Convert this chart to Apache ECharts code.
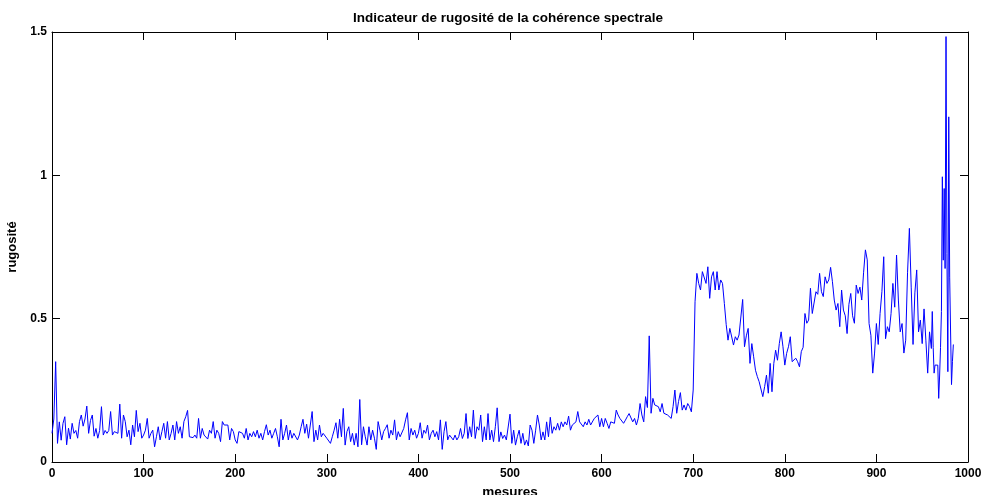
<!DOCTYPE html>
<html>
<head>
<meta charset="utf-8">
<script src="https://cdn.jsdelivr.net/npm/echarts@6/dist/echarts.min.js"></script>
<style>
  html, body { margin: 0; padding: 0; background: #fff; }
  #chart { width: 984px; height: 495px; }
</style>
</head>
<body>
<div id="chart"></div>
<script>
// ---- Data ----
const chartTitle = 'Indicateur de rugosité de la cohérence spectrale';
const xAxisName = 'mesures';
const yAxisName = 'rugosité';

// measures 0..958, one value every 2 measures
const mainStart = 0;
const mainStep = 2;
const rugosite = [
  // 0 - 218
  0.10, 0.15, 0.35, 0.065, 0.14, 0.076, 0.135, 0.158, 0.06, 0.118,
  0.08, 0.135, 0.10, 0.11, 0.083, 0.141, 0.164, 0.125, 0.15, 0.195,
  0.10, 0.145, 0.164, 0.09, 0.117, 0.083, 0.11, 0.193, 0.094, 0.11,
  0.10, 0.11, 0.176, 0.094, 0.106, 0.11, 0.10, 0.202, 0.083, 0.164,
  0.141, 0.088, 0.111, 0.06, 0.129, 0.088, 0.18, 0.106, 0.135, 0.083,
  0.094, 0.111, 0.152, 0.083, 0.10, 0.111, 0.053, 0.088, 0.123, 0.077,
  0.106, 0.135, 0.083, 0.141, 0.077, 0.10, 0.129, 0.077, 0.141, 0.10,
  0.123, 0.083, 0.141, 0.158, 0.18, 0.088, 0.09, 0.085, 0.094, 0.083,
  0.152, 0.083, 0.117, 0.094, 0.10, 0.08, 0.111, 0.10, 0.141, 0.083,
  0.111, 0.10, 0.071, 0.141, 0.129, 0.123, 0.129, 0.077, 0.117, 0.106,
  0.077, 0.065, 0.106, 0.111, 0.10, 0.083, 0.117, 0.077, 0.10, 0.088,
  // 220 - 434
  0.106, 0.088, 0.111, 0.083, 0.10, 0.077, 0.106, 0.13, 0.094, 0.111,
  0.083, 0.10, 0.117, 0.088, 0.053, 0.149, 0.077, 0.10, 0.129, 0.077,
  0.111, 0.083, 0.10, 0.106, 0.077, 0.094, 0.123, 0.149, 0.10, 0.132,
  0.083, 0.129, 0.176, 0.071, 0.111, 0.077, 0.129, 0.088, 0.10, 0.10,
  0.083, 0.077, 0.065, 0.088, 0.111, 0.137, 0.083, 0.149, 0.088, 0.187,
  0.059, 0.106, 0.123, 0.071, 0.10, 0.059, 0.10, 0.053, 0.218, 0.06,
  0.123, 0.088, 0.059, 0.123, 0.077, 0.111, 0.083, 0.044, 0.141, 0.111,
  0.077, 0.106, 0.117, 0.13, 0.083, 0.111, 0.094, 0.147, 0.077, 0.106,
  0.088, 0.088, 0.117, 0.147, 0.172, 0.077, 0.117, 0.094, 0.111, 0.083,
  0.10, 0.137, 0.083, 0.111, 0.10, 0.129, 0.077, 0.10, 0.111, 0.088,
  0.106, 0.077, 0.147, 0.044, 0.106, 0.141, 0.077, 0.094,
  // 436 - 630
  0.088, 0.077, 0.094, 0.077, 0.088, 0.117, 0.082, 0.10, 0.169, 0.082,
  0.123, 0.088, 0.181, 0.082, 0.123, 0.111, 0.164, 0.071, 0.123, 0.077,
  0.169, 0.077, 0.111, 0.071, 0.123, 0.189, 0.071, 0.105, 0.082, 0.094,
  0.077, 0.082, 0.167, 0.065, 0.111, 0.059, 0.088, 0.111, 0.065, 0.10,
  0.059, 0.077, 0.056, 0.129, 0.111, 0.065, 0.111, 0.164, 0.129, 0.077,
  0.105, 0.077, 0.14, 0.088, 0.156, 0.10, 0.123, 0.111, 0.135, 0.111,
  0.14, 0.123, 0.14, 0.129, 0.16, 0.111, 0.129, 0.123, 0.14, 0.176,
  0.14, 0.135, 0.123, 0.14, 0.129, 0.149, 0.129, 0.123, 0.152, 0.146,
  0.164, 0.123, 0.152, 0.123, 0.152, 0.135, 0.117, 0.14, 0.146, 0.135,
  0.181, 0.164, 0.152, 0.152, 0.135, 0.146, 0.158, 0.169,
  // 632 - 702
  0.165, 0.14, 0.152, 0.129, 0.152, 0.204, 0.164, 0.14, 0.228, 0.19,
  0.44, 0.17, 0.222, 0.199, 0.204, 0.193, 0.175, 0.204, 0.17, 0.175,
  0.164, 0.17, 0.152, 0.193, 0.251, 0.17, 0.211, 0.242, 0.181, 0.199,
  0.181, 0.204, 0.193, 0.175, 0.251, 0.559,
  // 704 - 756
  0.658, 0.623, 0.60, 0.664, 0.67, 0.623, 0.681, 0.571, 0.646, 0.664,
  0.60, 0.664, 0.60, 0.635, 0.623, 0.553, 0.48, 0.425, 0.466, 0.472,
  0.408, 0.437, 0.425, 0.443, 0.437, 0.567, 0.402,
  // 758 - 884
  0.44, 0.466, 0.344, 0.413, 0.367, 0.32, 0.298, 0.28, 0.286, 0.228,
  0.263, 0.303, 0.24, 0.344, 0.245, 0.344, 0.39, 0.355, 0.413, 0.454,
  0.402, 0.338, 0.379, 0.402, 0.437, 0.35, 0.344, 0.362, 0.35, 0.332,
  0.385, 0.40, 0.518, 0.484, 0.495, 0.606, 0.518, 0.512, 0.594, 0.585,
  0.658, 0.594, 0.577, 0.646, 0.623, 0.635, 0.679, 0.629, 0.565, 0.53,
  0.553, 0.472, 0.60, 0.53, 0.51, 0.448, 0.55, 0.588, 0.51, 0.484,
  0.617, 0.588, 0.61, 0.565,
  // 886 - 958
  0.66, 0.74, 0.705, 0.483, 0.442, 0.31, 0.38, 0.483, 0.41, 0.518,
  0.594, 0.716, 0.43, 0.472, 0.454, 0.518, 0.623, 0.54, 0.722, 0.565,
  0.454, 0.483, 0.38, 0.425, 0.66, 0.815, 0.61, 0.41, 0.59, 0.67,
  0.454, 0.495, 0.413, 0.534, 0.425, 0.31, 0.454
];

// measures 960..984, one value per measure
const tailStart = 960;
const rugositeTail = [
  0.396, 0.525, 0.40, 0.31, 0.338, 0.344, 0.344, 0.338, 0.222, 0.30,
  0.40, 0.525, 0.995, 0.704, 0.954, 0.675, 1.484, 0.728, 0.315, 1.204,
  0.645, 0.45, 0.27, 0.35, 0.41
];

const xTicks = { min: 0, max: 1000, interval: 100 };
const yTicks = { min: 0, max: 1.5, interval: 0.5 };

// ---- Build series ----
const seriesData = [];
rugosite.forEach((v, i) => seriesData.push([mainStart + i * mainStep, v]));
rugositeTail.forEach((v, i) => seriesData.push([tailStart + i, v]));

const FONT = '"Liberation Sans", Arial, sans-serif';
const chart = echarts.init(document.getElementById('chart'), null, { renderer: 'canvas' });

const tickStyle = { color: '#000', width: 1 };
chart.setOption({
  animation: false,
  backgroundColor: '#ffffff',
  title: {
    text: chartTitle,
    left: 503,
    top: 6,
    textAlign: 'center',
    textStyle: { fontFamily: FONT, fontSize: 13.5, fontWeight: 'bold', color: '#000' }
  },
  grid: { left: 52, right: 16, top: 32, bottom: 33, containLabel: false, outerBoundsMode: 'none' },
  xAxis: [
    {
      type: 'value', position: 'bottom',
      min: xTicks.min, max: xTicks.max, interval: xTicks.interval,
      name: xAxisName, nameLocation: 'middle', nameGap: 21,
      nameTextStyle: { fontFamily: FONT, fontSize: 13.5, fontWeight: 'bold', color: '#000' },
      axisLine: { show: true, onZero: false, lineStyle: { color: '#000', width: 1 } },
      axisTick: { show: true, inside: true, length: 8, lineStyle: tickStyle },
      axisLabel: { color: '#000', fontFamily: FONT, fontSize: 12, fontWeight: 'bold', margin: 6,
                   formatter: (v) => String(v) },
      splitLine: { show: false }
    },
    {
      type: 'value', position: 'top',
      min: xTicks.min, max: xTicks.max, interval: xTicks.interval,
      axisLine: { show: true, onZero: false, lineStyle: { color: '#000', width: 1 } },
      axisTick: { show: true, inside: true, length: 8, lineStyle: tickStyle },
      axisLabel: { show: false },
      splitLine: { show: false }
    }
  ],
  yAxis: [
    {
      type: 'value', position: 'left',
      min: yTicks.min, max: yTicks.max, interval: yTicks.interval,
      name: yAxisName, nameLocation: 'middle', nameGap: 30, nameRotate: 90,
      nameTextStyle: { fontFamily: FONT, fontSize: 13, fontWeight: 'bold', color: '#000' },
      axisLine: { show: true, onZero: false, lineStyle: { color: '#000', width: 1 } },
      axisTick: { show: true, inside: true, length: 8, lineStyle: tickStyle },
      axisLabel: { color: '#000', fontFamily: FONT, fontSize: 12, fontWeight: 'bold', margin: 5,
                   formatter: (v) => String(v) },
      splitLine: { show: false }
    },
    {
      type: 'value', position: 'right',
      min: yTicks.min, max: yTicks.max, interval: yTicks.interval,
      axisLine: { show: true, onZero: false, lineStyle: { color: '#000', width: 1 } },
      axisTick: { show: true, inside: true, length: 8, lineStyle: tickStyle },
      axisLabel: { show: false },
      splitLine: { show: false }
    }
  ],
  series: [{
    type: 'line',
    xAxisIndex: 0,
    yAxisIndex: 0,
    data: seriesData,
    showSymbol: false,
    symbol: 'none',
    lineStyle: { color: '#0000ff', width: 1 },
    itemStyle: { color: '#0000ff' }
  }]
});
</script>
</body>
</html>
